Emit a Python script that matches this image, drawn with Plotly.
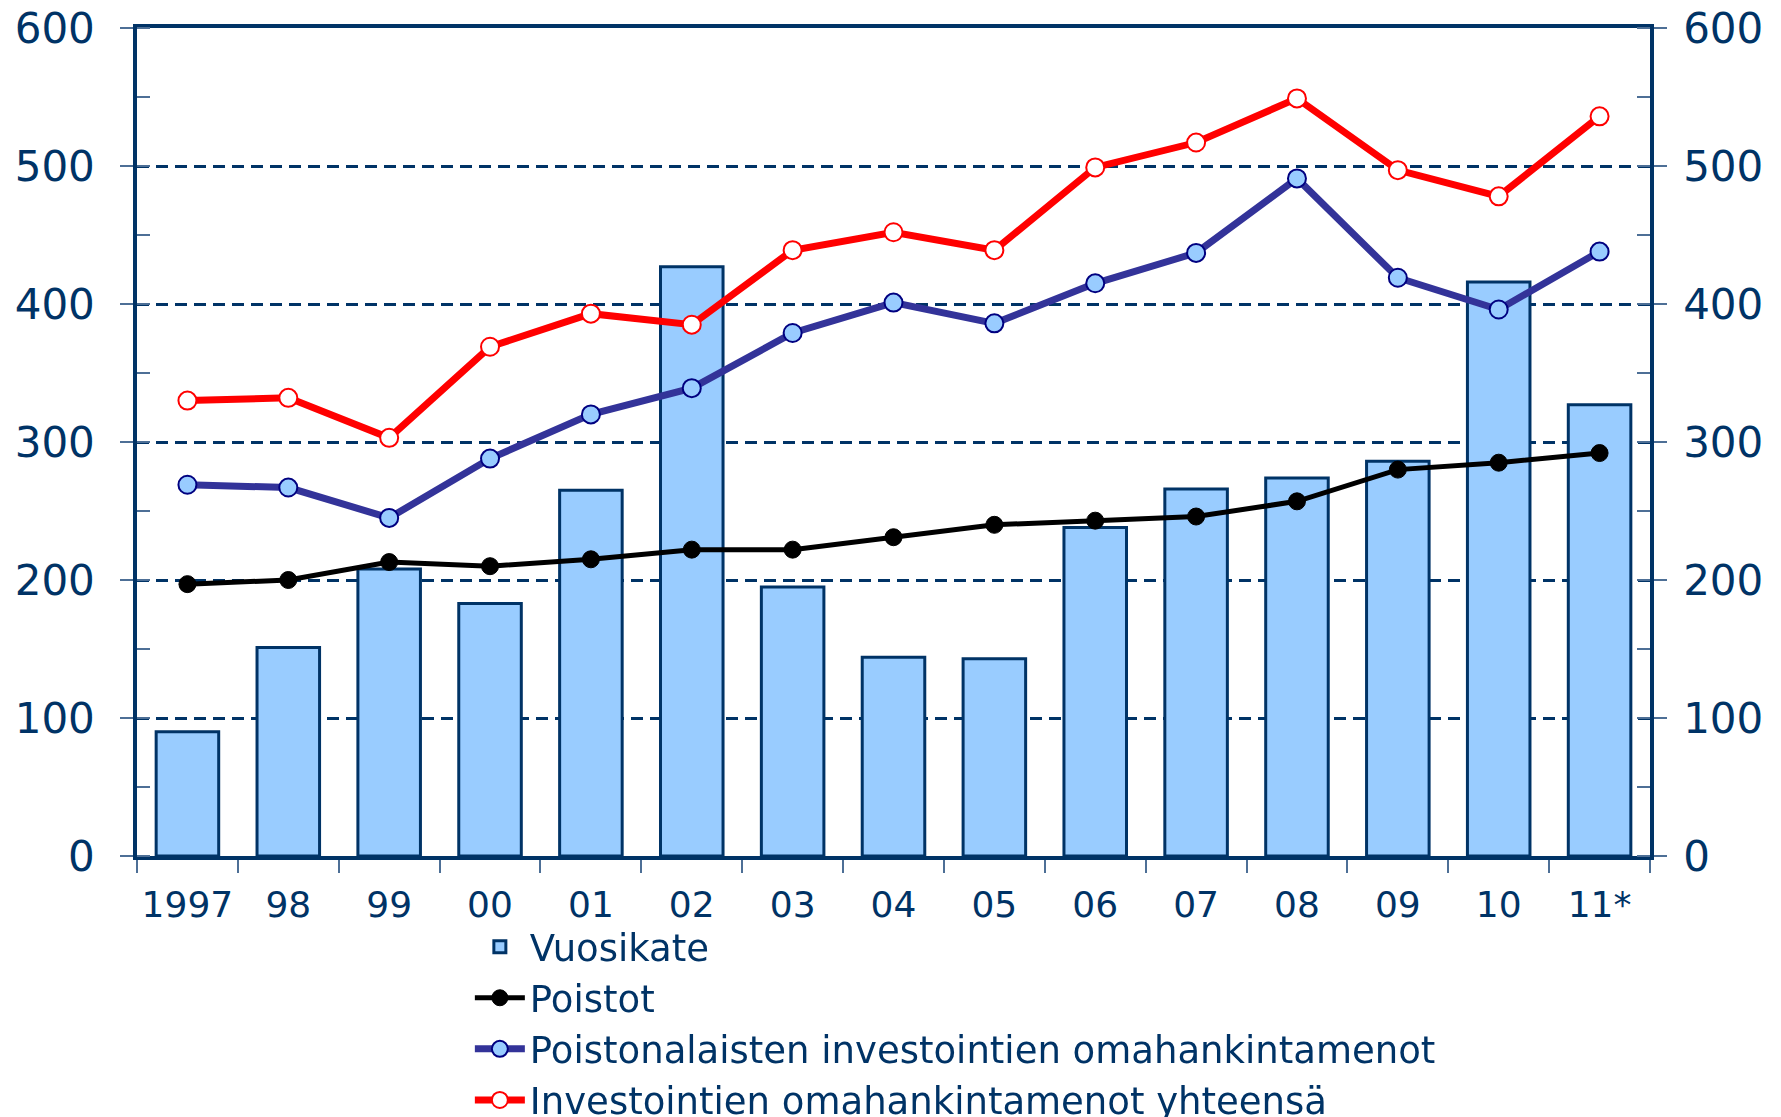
import plotly.graph_objects as go

years = ["1997", "98", "99", "00", "01", "02", "03", "04", "05", "06", "07", "08", "09", "10", "11*"]
vuosikate = [90, 151, 208, 183, 265, 427, 195, 144, 143, 238, 266, 274, 286, 416, 327]
poistot = [197, 200, 213, 210, 215, 222, 222, 231, 240, 243, 246, 257, 280, 285, 292]
poistonalaiset = [269, 267, 245, 288, 320, 339, 379, 401, 386, 415, 437, 491, 419, 396, 438]
investoinnit = [330, 332, 303, 369, 393, 385, 439, 452, 439, 499, 517, 549, 497, 478, 536]

NAVY = "#003366"
TICK = "#4d6f96"
FONT = "DejaVu Sans"

fig = go.Figure()
fig.add_trace(go.Bar(
    x=years, y=vuosikate, name="Vuosikate",
    marker=dict(color="#99CCFF", line=dict(color=NAVY, width=3)),
))
fig.add_trace(go.Scatter(
    x=years, y=poistot, name="Poistot", mode="lines+markers",
    line=dict(color="#000000", width=5),
    marker=dict(color="#000000", size=17, line=dict(color="#000000", width=1)),
))
fig.add_trace(go.Scatter(
    x=years, y=poistonalaiset, name="Poistonalaisten investointien omahankintamenot",
    mode="lines+markers",
    line=dict(color="#333399", width=7),
    marker=dict(color="#99CCFF", size=18, line=dict(color="#000080", width=2)),
))
fig.add_trace(go.Scatter(
    x=years, y=investoinnit, name="Investointien omahankintamenot yhteensä",
    mode="lines+markers",
    line=dict(color="#FF0000", width=7),
    marker=dict(color="#FFFFFF", size=18, line=dict(color="#FF0000", width=2)),
))
# helper trace so the right-hand axis is rendered
fig.add_trace(go.Scatter(
    x=years, y=vuosikate, yaxis="y2", mode="markers", opacity=0,
    showlegend=False, hoverinfo="skip",
))

yaxis_common = dict(
    range=[0, 600], dtick=100, tick0=0,
    ticks="outside", ticklen=13, tickwidth=1.5, tickcolor=TICK,
    tickfont=dict(family=FONT, size=42, color=NAVY),
    minor=dict(dtick=50, ticks="inside", ticklen=13, tickwidth=1.5, tickcolor=TICK, showgrid=False),
    fixedrange=True, automargin=False, ticklabeloverflow="allow",
)

fig.update_layout(
    width=1781, height=1117,
    margin=dict(l=129, r=139, t=20, b=269, autoexpand=False),
    paper_bgcolor="white", plot_bgcolor="white",
    bargap=0.38,
    showlegend=True,
    legend=dict(
        x=0.220, y=0.187, xanchor="left", yanchor="top", yref="container",
        orientation="v", bgcolor="rgba(0,0,0,0)",
        font=dict(family=FONT, size=37, color=NAVY),
        tracegroupgap=0, itemwidth=50,
    ),
    xaxis=dict(
        type="category", range=[-0.5, 14.5], automargin=False,
        tickson="boundaries", ticks="outside", ticklen=13, tickwidth=1.5, tickcolor=TICK,
        showline=True, linecolor=NAVY, linewidth=3.5, mirror=True,
        showgrid=False, tickangle=0, ticklabeloverflow="allow",
        tickfont=dict(family=FONT, size=36, color=NAVY),
        ticklabelstandoff=14,
    ),
    yaxis=dict(
        **yaxis_common,
        showline=True, linecolor=NAVY, linewidth=3.5,
        showgrid=True, gridcolor=NAVY, gridwidth=3, griddash="12px,7px",
        zeroline=False,
        ticklabelstandoff=17,
    ),
    yaxis2=dict(
        **yaxis_common,
        overlaying="y", side="right",
        showline=True, linecolor=NAVY, linewidth=3.5,
        showgrid=False, zeroline=False,
        ticklabelstandoff=8,
    ),
)

fig.write_html("out.html")
